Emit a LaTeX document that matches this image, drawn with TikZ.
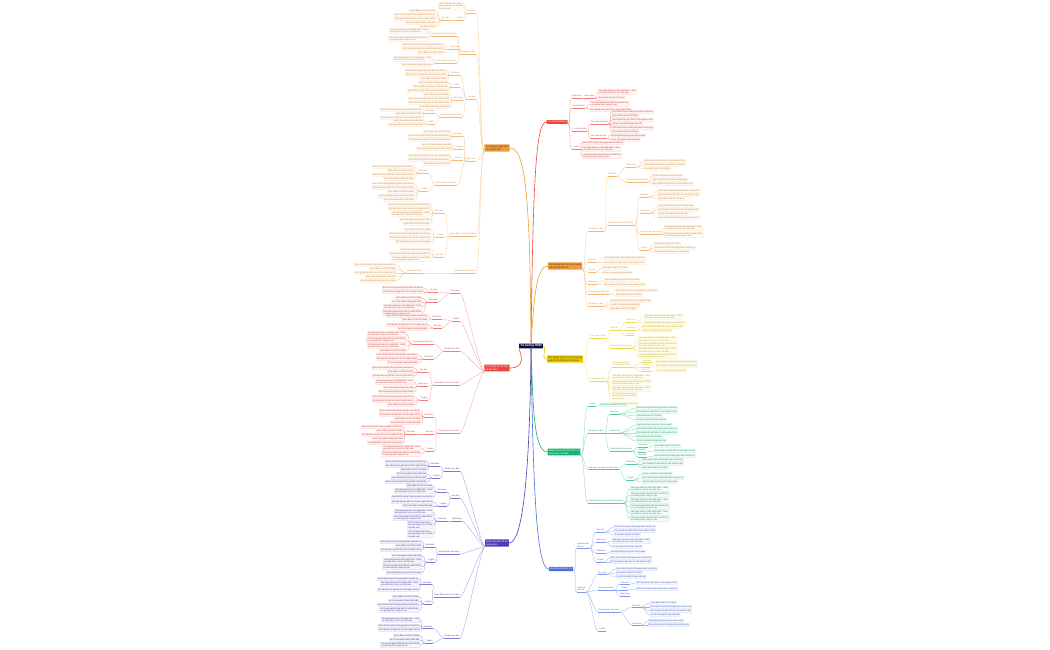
\documentclass[tikz,border=0pt]{standalone}
\usepackage{fontspec}
\setmainfont{Liberation Sans}
\definecolor{cNavy}{HTML}{0E0E3C}
\definecolor{cRed}{HTML}{F0443C}
\definecolor{cOrange}{HTML}{F29B38}
\definecolor{cYellow}{HTML}{E8C800}
\definecolor{cGreen}{HTML}{12B56B}
\definecolor{cBlue}{HTML}{4A6CE0}
\definecolor{cIndigo}{HTML}{4B3FB8}
\colorlet{bc}{cRed}
\def\mmA{Khái niệm}
\def\mmB{Nội dung cơ bản}
\def\mmC{Quan điểm của Hồ Chí Minh}
\def\mmD{Vai trò của quần chúng nhân dân}
\def\mmE{Đoàn kết là truyền thống quý báu của dân tộc}
\def\mmF{Vận dụng sáng tạo chủ nghĩa Mác - Lênin\\vào điều kiện cụ thể của Việt Nam}
\def\mmG{Độc lập dân tộc gắn liền với chủ nghĩa xã hội}
\def\mmH{Cách mạng giải phóng dân tộc phải đi theo\\con đường cách mạng vô sản}
\def\mmI{Xây dựng Đảng trong sạch vững mạnh}
\def\mmJ{Ý nghĩa}
\def\mmK{Mục tiêu}
\def\mmL{Đặc trưng}
\def\mmM{Phương thức thực hiện}
\def\mmN{Nhà nước của dân do dân vì dân}
\def\mmR{Hồ Chí Minh là anh hùng\\giải phóng dân tộc nhà văn\\hóa kiệt xuất}
\tikzset{
 main/.style={font=\fontsize{2.4}{2.9}\selectfont, inner xsep=1.2pt, inner ysep=0.9pt, align=left, rounded corners=0.4pt},
 sub/.style={font=\fontsize{2.0}{2.4}\selectfont, text=bc!88!black, inner xsep=0.4pt, inner ysep=0.5pt, align=left,
   append after command={(\tikzlastnode.south west) edge[draw=bc!70, line width=0.3pt] (\tikzlastnode.south east)}},
 leaf/.style={font=\fontsize{2.0}{2.4}\selectfont, text=bc!85!black, fill=bc!5, draw=bc!30, line width=0.2pt, inner sep=0.6pt, align=left, rounded corners=0.3pt},
 con/.style={draw=bc!55, line width=0.3pt},
 mcon/.style={draw=bc, line width=0.6pt},
}
\newcommand\sR[5]{\node[sub,anchor=south west] (#1) at (#3,#4) {#5};
  \draw[con] (#2.south east) .. controls +(4,0) and +(-4,0) .. (#1.south west);}
\newcommand\sL[5]{\node[sub,anchor=south east] (#1) at (#3,#4) {#5};
  \draw[con] (#2.south west) .. controls +(-4,0) and +(4,0) .. (#1.south east);}
\newcommand\lvR[4]{\foreach \yy/\mytxt [count=\i] in {#4} {\node[leaf,anchor=west] (#1\i) at (#3,\yy) {\mytxt};
  \draw[con] (#2.south east) .. controls +(4,0) and +(-4,0) .. (#1\i.west);}}
\newcommand\lvL[4]{\foreach \yy/\mytxt [count=\i] in {#4} {\node[leaf,anchor=east] (#1\i) at (#3,\yy) {\mytxt};
  \draw[con] (#2.south west) .. controls +(-4,0) and +(4,0) .. (#1\i.east);}}
\begin{document}
\begin{tikzpicture}[x=1pt,y=-1pt]
\fill[white] (0,0) rectangle (1050,650);
\useasboundingbox (0,0) rectangle (1050,650);
\node[main, fill=cNavy, text=white, font=\fontsize{3}{3.5}\selectfont\bfseries] (c) at (531,346) {Tư tưởng HCM};

% ---------------- R1 red
\begin{scope}
\colorlet{bc}{cRed}
\node[main,fill=bc,text=white] (r1) at (557,122) {Cơ sở hình thành};
\draw[mcon] (c.north) .. controls (533,180) and (536,122) .. (r1.west);
\sR{r1a}{r1}{572}{98}{\mmA}
\sR{r1a1}{r1a}{584}{98}{Định nghĩa}
\lvR{r1al}{r1a1}{598}{92/{\mmF},97.5/\mmC,101.5/\mmB}
\sR{r1b}{r1}{572}{108}{Cơ sở lý luận}
\lvR{r1bl}{r1b}{590}{104/{\mmH},110/\mmG}
\sR{r1c}{r1}{572}{131}{Cơ sở thực tiễn}
\sR{r1c1}{r1c}{590}{124}{Thực tiễn Việt Nam}
\lvR{r1c1l}{r1c1}{612}{112/\mmE,116/\mmC,120/\mmG,124/\mmD,128/\mmE,132/\mmC}
\sR{r1c2}{r1c}{590}{138}{Thực tiễn thế giới}
\lvR{r1c2l}{r1c2}{610}{135.5/\mmI,139.5/\mmD}
\sR{r1d}{r1}{572}{149}{\mmJ}
\lvR{r1dl}{r1d}{582}{143/\mmE,149/{\mmF},156/{\mmH}}
\end{scope}

% ---------------- R2 orange
\begin{scope}
\colorlet{bc}{cOrange}
\node[main,fill=bc,text=black!80] (r2) at (565,266) {Vấn đề dân tộc và cách mạng\\giải phóng dân tộc};
\draw[mcon] (c.north) .. controls (534,300) and (536,266) .. (r2.west);
\sR{r2a}{r2}{588}{231}{\mmB}
\sR{r2a1}{r2a}{608}{176}{\mmK}
\sR{r2a1a}{r2a1}{626}{167}{\mmL}
\lvR{r2a1al}{r2a1a}{644}{161/\mmG,165/\mmE,169/\mmC}
\sR{r2a1b}{r2a1}{626}{182}{\mmM}
\lvR{r2a1bl}{r2a1b}{652}{176/\mmD,180/\mmI,184/\mmG}
\sR{r2a2}{r2a}{608}{225}{\mmC}
\sR{r2a2a}{r2a2}{640}{197}{\mmK}
\lvR{r2a2al}{r2a2a}{658}{191/\mmE,195/\mmG,199/\mmC}
\sR{r2a2b}{r2a2}{640}{213}{\mmL}
\lvR{r2a2bl}{r2a2b}{658}{206/\mmI,210/\mmG,214/\mmD,218/\mmE}
\sR{r2a2c}{r2a2}{640}{234}{\mmM}
\lvR{r2a2cl}{r2a2c}{664}{228/{\mmF},235/{\mmH}}
\sR{r2a2d}{r2a2}{640}{250}{\mmJ}
\lvR{r2a2dl}{r2a2d}{654}{244/\mmC,248/\mmE,252/\mmI}
\sR{r2b}{r2}{588}{262}{\mmK}
\lvR{r2bl}{r2b}{604}{258/\mmE,262.5/\mmG}
\sR{r2c}{r2}{588}{272}{\mmJ}
\lvR{r2cl}{r2c}{602}{268/\mmC,272.5/\mmD}
\sR{r2d}{r2}{588}{284}{\mmL}
\lvR{r2dl}{r2d}{604}{280/\mmI,284.5/\mmG}
\sR{r2e}{r2}{588}{294}{\mmM}
\lvR{r2el}{r2e}{616}{290.5/\mmE,295/\mmC}
\sR{r2f}{r2}{588}{306}{\mmB}
\lvR{r2fl}{r2f}{610}{301/\mmG,305/\mmD,309/\mmC}
\end{scope}

% ---------------- R3 yellow
\begin{scope}
\colorlet{bc}{cYellow}
\node[main,fill=bc,text=black!80] (r3) at (565,359) {Chủ nghĩa xã hội và con đường\\quá độ lên CNXH ở Việt Nam};
\draw[mcon] (c.east) .. controls (548,347) and (540,359) .. (r3.west);
\sR{r3a}{r3}{590}{338}{Chủ nghĩa xã hội}
\sR{r3a1}{r3a}{610}{330}{\mmK}
\sR{r3a1a}{r3a1}{626}{322}{\mmL}
\lvR{r3a1al}{r3a1a}{644}{317/{\mmF},323/\mmE}
\sR{r3a1b}{r3a1}{626}{330}{\mmA}
\lvR{r3a1bl}{r3a1b}{642}{327/\mmG,331/\mmD}
\sR{r3a1c}{r3a1}{626}{335.5}{\mmJ}
\sR{r3a2}{r3a}{610}{348}{\mmM}
\lvR{r3a2l}{r3a2}{638}{339.5/{\mmF},345/{\mmH},350.5/{\mmF},356/{\mmH}}
\sR{r3b}{r3}{590}{381}{\mmB}
\sR{r3b1}{r3b}{612}{367}{Con đường quá độ\\lên chủ nghĩa xã hội}
\sR{r3b1a}{r3b1}{642}{362.5}{\mmA}
\lvR{r3b1al}{r3b1a}{656}{361.5/\mmE}
\sR{r3b1b}{r3b1}{642}{367}{\mmJ}
\lvR{r3b1bl}{r3b1b}{656}{366/\mmG}
\sR{r3b1c}{r3b1}{642}{371.5}{\mmK}
\lvR{r3b1cl}{r3b1c}{656}{370.5/\mmD}
\lvR{r3bl}{r3b}{612}{377/{\mmF},383/{\mmH},389/{\mmF},396/{\mmR},404/\mmC}
\end{scope}

% ---------------- R4 green
\begin{scope}
\colorlet{bc}{cGreen}
\node[main,fill=bc,text=white] (r4) at (564,452) {Đảng Cộng sản Việt Nam và\\Nhà nước của dân};
\draw[mcon] (c.south) .. controls (533,400) and (533,452) .. (r4.west);
\sR{r4a}{r4}{588}{406}{\mmJ}
\lvR{r4al}{r4a}{600}{405/\mmC}
\sR{r4b}{r4}{588}{433}{\mmB}
\sR{r4b1}{r4b}{610}{414}{\mmK}
\lvR{r4b1l}{r4b1}{636}{408/\mmE,412/\mmG,416/\mmC,420/\mmD}
\sR{r4b2}{r4b}{610}{433}{\mmL}
\lvR{r4b2l}{r4b2}{636}{425/\mmI,429/\mmE,433/\mmG,437/\mmC,441/\mmD}
\sR{r4b3}{r4b}{610}{451}{\mmM}
\sR{r4b3a}{r4b3}{638}{447}{\mmA}
\lvR{r4b3al}{r4b3a}{654}{446/\mmC}
\sR{r4b3b}{r4b3}{638}{452}{\mmJ}
\lvR{r4b3bl}{r4b3b}{654}{451/\mmG}
\sR{r4b3c}{r4b3}{638}{457}{\mmK}
\lvR{r4b3cl}{r4b3c}{654}{456/\mmE}
\sR{r4c}{r4}{588}{469}{\mmN}
\sR{r4c1}{r4c}{626}{464}{\mmA}
\lvR{r4c1l}{r4c1}{642}{460/\mmE,464/\mmG,468/\mmC}
\sR{r4c2}{r4c}{626}{480}{\mmJ}
\lvR{r4c2l}{r4c2}{642}{474/\mmD,478/\mmE,482/\mmI}
\sR{r4d}{r4}{588}{503}{\mmI}
\lvR{r4dl}{r4d}{630}{489/{\mmF},495/{\mmH},501/{\mmF},507/{\mmH},513/{\mmF},519/{\mmH}}
\end{scope}

% ---------------- R5 blue
\begin{scope}
\colorlet{bc}{cBlue}
\node[main,fill=bc,text=white] (r5) at (561,569) {Đại đoàn kết dân tộc};
\draw[mcon] (c.south) .. controls (533,480) and (536,569) .. (r5.west);
\sR{r5a}{r5}{577}{548}{Đại đoàn kết\\dân tộc}
\sR{r5a1}{r5a}{596}{532}{\mmK}
\lvR{r5a1l}{r5a1}{614}{527/\mmE,531/\mmG,535/\mmC}
\sR{r5a2}{r5a}{596}{542}{\mmL}
\lvR{r5a2l}{r5a2}{612}{541/{\mmF},547/\mmD}
\sR{r5a3}{r5a}{596}{553}{\mmA}
\lvR{r5a3l}{r5a3}{610}{552/\mmI}
\sR{r5a4}{r5a}{596}{562}{\mmJ}
\lvR{r5a4l}{r5a4}{610}{558/\mmE,562/\mmG}
\sR{r5b}{r5}{577}{592}{Đoàn kết\\quốc tế}
\sR{r5b1}{r5b}{598}{574}{\mmK}
\lvR{r5b1l}{r5b1}{616}{569/\mmE,573/\mmC,577/\mmD}
\sR{r5b2}{r5b}{598}{590}{\mmB}
\sR{r5b2a}{r5b2}{620}{584}{\mmA}
\lvR{r5b2al}{r5b2a}{636}{583/\mmG}
\sR{r5b2b}{r5b2}{620}{590}{\mmJ}
\lvR{r5b2bl}{r5b2b}{636}{589/\mmE}
\sR{r5b2c}{r5b2}{620}{596}{\mmL}
\sR{r5b3}{r5b}{598}{612}{\mmM}
\sR{r5b3a}{r5b3}{632}{607}{\mmK}
\lvR{r5b3al}{r5b3a}{650}{603/\mmC,607/\mmE,611/\mmG,615/\mmD}
\sR{r5b3b}{r5b3}{632}{625}{\mmA}
\lvR{r5b3bl}{r5b3b}{648}{621/\mmI,625/\mmE}
\sR{r5b4}{r5b}{598}{631}{\mmJ}
\end{scope}

% ---------------- L1 orange
\begin{scope}
\colorlet{bc}{cOrange}
\node[main,fill=bc,text=black!80] (l1) at (497,148) {Tư tưởng về đạo đức\\con người mới};
\draw[mcon] (c.north) .. controls (530,200) and (526,148) .. (l1.east);
\sL{l1a}{l1}{476}{13}{\mmA}
\lvL{l1al}{l1a}{464}{6/{\mmR}}
\sL{l1a2}{l1a}{464}{20}{\mmJ}
\sL{l1a2a}{l1a2}{450}{20}{\mmK}
\lvL{l1a2al}{l1a2a}{436}{11/\mmC,15/\mmE,19/\mmG,23/\mmD,27/\mmB}
\sL{l1b}{l1}{476}{54}{\mmB}
\sL{l1b1}{l1b}{457}{36}{\mmC}
\lvL{l1b1l}{l1b1}{428}{31/{\mmF},39/{\mmH}}
\sL{l1b2}{l1b}{460}{49}{\mmL}
\lvL{l1b2l}{l1b2}{444}{45/\mmE,49/\mmG,53/\mmC}
\sL{l1b3}{l1b}{457}{63}{\mmM}
\lvL{l1b3l}{l1b3}{432}{59/{\mmF},65/\mmD}
\sL{l1c}{l1}{476}{99}{\mmK}
\sL{l1c1}{l1c}{460}{75}{\mmA}
\lvL{l1c1l}{l1c1}{447}{71/\mmE,75/\mmG,79/\mmC}
\sL{l1c2}{l1c}{460}{87}{\mmJ}
\lvL{l1c2l}{l1c2}{449}{83/\mmD,87/\mmI,91/\mmE}
\sL{l1c3}{l1c}{463}{100}{\mmL}
\lvL{l1c3l}{l1c3}{450}{95/\mmC,99/\mmG,103/\mmE,107/\mmD}
\sL{l1c4}{l1c}{462}{117}{\mmM}
\sL{l1c4a}{l1c4}{435}{113}{\mmA}
\lvL{l1c4al}{l1c4a}{422}{110/\mmE,114/\mmC,118/\mmG}
\sL{l1c4b}{l1c4}{435}{124}{\mmJ}
\lvL{l1c4bl}{l1c4b}{424}{121/\mmD,125/\mmI}
\sL{l1d}{l1}{476}{161}{\mmL}
\sL{l1d1}{l1d}{463}{136}{\mmA}
\lvL{l1d1l}{l1d1}{450}{132/\mmC,136/\mmE,140/\mmG}
\sL{l1d2}{l1d}{463}{149}{\mmJ}
\lvL{l1d2l}{l1d2}{452}{145/\mmD,149/\mmI}
\sL{l1d3}{l1d}{463}{160}{\mmK}
\lvL{l1d3l}{l1d3}{450}{156/\mmG,160/\mmE,164/\mmC}
\sL{l1d4}{l1d}{457}{185}{\mmM}
\sL{l1d4a}{l1d4}{428}{173}{\mmA}
\lvL{l1d4al}{l1d4a}{414}{167/\mmE,171/\mmC,175/\mmG,179/\mmD}
\sL{l1d4b}{l1d4}{428}{191}{\mmJ}
\lvL{l1d4bl}{l1d4b}{414}{184/\mmE,188/\mmG,192/\mmC,196/\mmI,200/\mmD}
\sL{l1e}{l1}{476}{236}{\mmC}
\sL{l1e1}{l1e}{444}{213}{\mmA}
\lvL{l1e1l}{l1e1}{430}{205/\mmE,209/\mmG,214/{\mmF},220/\mmD,224/\mmC}
\sL{l1e2}{l1e}{444}{237}{\mmJ}
\lvL{l1e2l}{l1e2}{431}{230/\mmC,234/\mmE,238/\mmG,242/\mmI}
\sL{l1e3}{l1e}{444}{257}{\mmK}
\lvL{l1e3l}{l1e3}{431}{250/\mmD,254/\mmE,259/{\mmH}}
\sL{l1f}{l1}{476}{273}{\mmM}
\sL{l1f1}{l1f}{422}{273}{\mmB}
\lvL{l1f1l}{l1f1}{396}{265/\mmE,269/\mmC,273/\mmG,277/\mmD,281/\mmI}
\end{scope}

% ---------------- L2 red
\begin{scope}
\colorlet{bc}{cRed}
\node[main,fill=bc,text=white] (l2) at (497,368) {Tư tưởng về văn hóa\\và đạo đức};
\draw[mcon] (c.south west) .. controls (522,356) and (525,368) .. (l2.east);
\sL{l2a}{l2}{460}{293}{\mmA}
\sL{l2a1}{l2a}{438}{292}{\mmK}
\lvL{l2a1l}{l2a1}{424}{288/\mmE,292/\mmG}
\sL{l2a2}{l2a}{438}{302}{\mmL}
\lvL{l2a2l}{l2a2}{422}{298/\mmC,302/\mmD,307/{\mmF},313/{\mmH}}
\sL{l2b}{l2}{460}{321}{\mmJ}
\sL{l2b1}{l2b}{442}{319}{\mmA}
\lvL{l2b1l}{l2b1}{428}{316/\mmE,320/\mmC}
\sL{l2b2}{l2b}{442}{328}{\mmK}
\lvL{l2b2l}{l2b2}{428}{325/\mmG,329/\mmD}
\sL{l2c}{l2}{460}{351}{\mmB}
\sL{l2c1}{l2c}{434}{344}{\mmM}
\lvL{l2c1l}{l2c1}{406}{334/{\mmF},340/{\mmH},346/{\mmF},351/\mmC}
\sL{l2c2}{l2c}{434}{359}{\mmA}
\lvL{l2c2l}{l2c2}{418}{355/\mmE,359/\mmG,363/\mmD}
\sL{l2d}{l2}{460}{385}{\mmC}
\sL{l2d1}{l2d}{428}{372}{\mmK}
\lvL{l2d1l}{l2d1}{414}{368/\mmE,372/\mmC,376/\mmG}
\sL{l2d2}{l2d}{428}{386}{\mmL}
\lvL{l2d2l}{l2d2}{414}{382/{\mmF},388/\mmD,392/\mmI}
\sL{l2d3}{l2d}{428}{400}{\mmJ}
\lvL{l2d3l}{l2d3}{414}{397/\mmE,401/\mmG,405/\mmC}
\sL{l2e}{l2}{460}{433}{\mmM}
\sL{l2e1}{l2e}{434}{417}{\mmA}
\lvL{l2e1l}{l2e1}{421}{411/\mmE,415/\mmG,419/\mmC,423/\mmD}
\sL{l2e2}{l2e}{434}{434}{\mmK}
\sL{l2e2a}{l2e2}{416}{434}{\mmA}
\lvL{l2e2al}{l2e2a}{403}{427/\mmE,431/\mmC,435/\mmG,439/\mmD,443/\mmI}
\sL{l2e3}{l2e}{434}{451}{\mmJ}
\lvL{l2e3l}{l2e3}{421}{448/{\mmF},454/{\mmH}}
\end{scope}

% ---------------- L3 indigo
\begin{scope}
\colorlet{bc}{cIndigo}
\node[main,fill=bc,text=white] (l3) at (497,543) {Đoàn kết quốc tế và\\ngoại giao};
\draw[mcon] (c.south) .. controls (530,450) and (525,543) .. (l3.east);
\sL{l3a}{l3}{460}{471}{\mmB}
\sL{l3a1}{l3a}{440}{466}{\mmA}
\lvL{l3a1l}{l3a1}{427}{462/\mmE,466/\mmG,470/\mmC}
\sL{l3a2}{l3a}{440}{478}{\mmJ}
\lvL{l3a2l}{l3a2}{427}{474/\mmD,478/\mmI,482/\mmE}
\sL{l3b}{l3}{460}{498}{\mmK}
\sL{l3b1}{l3b}{447}{492}{\mmA}
\lvL{l3b1l}{l3b1}{433}{486/\mmC,491/{\mmF},497/\mmE}
\sL{l3b2}{l3b}{447}{506}{\mmJ}
\lvL{l3b2l}{l3b2}{433}{502/\mmG,506/\mmD}
\sL{l3c}{l3}{462}{521}{\mmL}
\sL{l3c1}{l3c}{447}{521}{\mmA}
\lvL{l3c1l}{l3c1}{433}{512/{\mmF},518/{\mmH},525/{\mmR},534/{\mmR}}
\sL{l3d}{l3}{460}{554}{\mmM}
\sL{l3d1}{l3d}{435}{547}{\mmA}
\lvL{l3d1l}{l3d1}{422}{542/\mmE,546/\mmC,550/\mmG}
\sL{l3d2}{l3d}{435}{562}{\mmJ}
\lvL{l3d2l}{l3d2}{422}{556/\mmD,561/{\mmF},567/{\mmH},573/\mmI}
\sL{l3e}{l3}{460}{597}{\mmC}
\sL{l3e1}{l3e}{432}{584}{\mmA}
\lvL{l3e1l}{l3e1}{419}{579/\mmE,584/{\mmF},590/\mmG}
\sL{l3e2}{l3e}{432}{604}{\mmJ}
\lvL{l3e2l}{l3e2}{419}{597/\mmC,601/\mmD,605/\mmE,610/{\mmH}}
\sL{l3f}{l3}{460}{638}{\mmB}
\sL{l3f1}{l3f}{433}{628}{\mmA}
\lvL{l3f1l}{l3f1}{420}{620/{\mmF},626/\mmE,630/\mmG}
\sL{l3f2}{l3f}{433}{643}{\mmJ}
\lvL{l3f2l}{l3f2}{420}{636/\mmC,640/\mmD,645/{\mmH}}
\end{scope}
\end{tikzpicture}
\end{document}
